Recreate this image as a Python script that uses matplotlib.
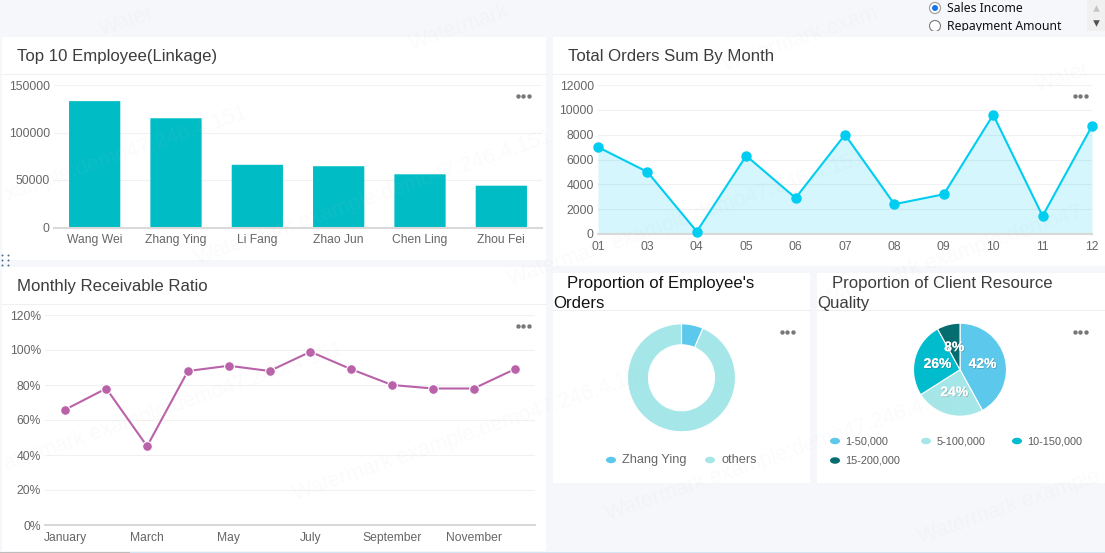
import matplotlib
matplotlib.use("Agg")
import matplotlib.pyplot as plt
import matplotlib.patheffects as pe
from matplotlib.patches import FancyBboxPatch, Rectangle, Ellipse, Circle

plt.rcParams["font.family"] = ["Liberation Sans", "DejaVu Sans"]

W, H = 1105, 553

# data
employees = ["Wang Wei", "Zhang Ying", "Li Fang", "Zhao Jun", "Chen Ling", "Zhou Fei"]
employee_sales = [133000, 115000, 66000, 64500, 56000, 44000]

order_months = ["01", "03", "04", "05", "06", "07", "08", "09", "10", "11", "12"]
order_sums = [7000, 5000, 200, 6300, 2900, 8000, 2400, 3200, 9600, 1450, 8700]

ratio_months = ["January", "February", "March", "April", "May", "June", "July",
                "August", "September", "October", "November", "December"]
ratio_values = [66, 78, 45, 88, 91, 88, 99, 89, 80, 78, 78, 89]

share_labels = ["Zhang Ying", "others"]
share_values = [6.5, 93.5]

quality_labels = ["1-50,000", "5-100,000", "10-150,000", "15-200,000"]
quality_values = [42, 24, 26, 8]

# colours
BG = "#f5f7fb"
GRID = "#f1f1f1"
AXIS = "#d9d9d9"
TICK = "#666666"
TEAL = "#00bcc5"
CYAN = "#00cdf0"
PURPLE = "#b962a9"
PIE_COLORS = ["#5bc8ec", "#a5e6e8", "#00bccd", "#056c6f"]


def px_axes(left, top, right, bottom, **kw):
    # axes placed by pixel box, y measured from the top of the image
    return fig.add_axes([left / W, 1 - bottom / H, (right - left) / W, (bottom - top) / H], **kw)


def style_axes(ax):
    for name in ["top", "right", "left"]:
        ax.spines[name].set_visible(False)
    ax.spines["bottom"].set_color(AXIS)
    ax.spines["bottom"].set_linewidth(1.5)
    ax.grid(axis="y", color=GRID, linewidth=0.8)
    ax.set_axisbelow(True)
    ax.tick_params(length=0, labelsize=8.7, labelcolor=TICK)
    ax.tick_params(axis="x", pad=5)
    ax.tick_params(axis="y", pad=3)


fig = plt.figure(figsize=(W / 100, H / 100), dpi=100, facecolor=BG)

# cards, dividers and titles live on one pixel layer
back = px_axes(0, 0, W, H, zorder=0)
back.set_xlim(0, W)
back.set_ylim(H, 0)
back.axis("off")

cards = [(2, 37, 546, 260, 74), (553, 37, 1105, 266, 74), (2, 267, 546, 551, 304),
         (553, 273, 810, 483, 310), (817, 273, 1105, 483, 310)]
for x0, y0, x1, y1, div in cards:
    back.add_patch(Rectangle((x0, y0), x1 - x0, y1 - y0, color="white", lw=0))
    back.plot([x0, x1], [div, div], color="#f0f0f0", lw=0.8)

# thin window edge along the bottom
back.add_patch(Rectangle((0, 551.5), 130, 1.5, color="#bdbdbd", lw=0))
back.add_patch(Rectangle((130, 551.5), W - 130, 1.5, color="#d3e4f3", lw=0))

title_kw = dict(fontsize=12.1, color="#3d3d3d", va="center")
back.text(17, 56, "Top 10 Employee(Linkage)", **title_kw)
back.text(568, 56, "Total Orders Sum By Month", **title_kw)
back.text(17, 286, "Monthly Receivable Ratio", **title_kw)
back.text(567, 283.5, "Proportion of Employee's", fontsize=12.1, color="#111111", va="center")
back.text(553, 303.5, "Orders", fontsize=12.1, color="#111111", va="center")
back.text(832, 283.5, "Proportion of Client Resource", **title_kw)
back.text(817, 303.5, "Quality", **title_kw)

# bar chart
ax1 = px_axes(54, 85, 542, 227.5, zorder=1)
ax1.patch.set_alpha(0)
bars = ax1.bar(employees, employee_sales, width=0.63, color=TEAL)
ax1.set_xlim(-0.5, 5.5)
ax1.set_ylim(0, 150000)
ax1.set_yticks([0, 50000, 100000, 150000])
style_axes(ax1)
# swap the square bars for rounded ones
band_px = 488 / 6
for bar in bars:
    bar.set_visible(False)
    ax1.add_patch(FancyBboxPatch(
        (bar.get_x(), 0), bar.get_width(), bar.get_height(),
        boxstyle=f"round,pad=0,rounding_size={4 / band_px}",
        mutation_aspect=(150000 / 142.5) / band_px,
        color=TEAL, lw=0, zorder=2))

# area line chart
ax2 = px_axes(598, 85, 1092, 234, zorder=1)
ax2.patch.set_alpha(0)
ax2.fill_between(order_months, order_sums, color=CYAN, alpha=0.17, lw=0)
ax2.plot(order_months, order_sums, color=CYAN, lw=1.5, marker="o", ms=6.5, clip_on=False, zorder=3)
ax2.set_xlim(0, len(order_months) - 1)
ax2.set_ylim(0, 12000)
ax2.set_yticks(range(0, 12001, 2000))
style_axes(ax2)

# ratio line chart
ax3 = px_axes(45, 315, 535, 525, zorder=1)
ax3.patch.set_alpha(0)
ax3.plot(ratio_months, ratio_values, color=PURPLE, lw=1.5, marker="o", ms=7,
         mec="white", mew=0.8, zorder=3)
ax3.set_xlim(-0.5, 11.5)
ax3.set_ylim(0, 120)
ax3.set_yticks(range(0, 121, 20))
ax3.set_yticklabels([f"{v}%" for v in range(0, 121, 20)])
ax3.set_xticks(range(0, 12, 2))
ax3.set_xticklabels(ratio_months[::2])
style_axes(ax3)

# donut
ax4 = px_axes(681.5 - 54, 377.8 - 54, 681.5 + 54, 377.8 + 54, zorder=1)
ax4.pie(share_values, colors=PIE_COLORS[:2], startangle=90, counterclock=False, radius=1,
        wedgeprops=dict(width=21 / 54, edgecolor="white", linewidth=0.8))
ax4.set_xlim(-1, 1)
ax4.set_ylim(-1, 1)

# pie
ax5 = px_axes(960 - 46.5, 369.7 - 46.5, 960 + 46.5, 369.7 + 46.5, zorder=1)
_, _, pct_texts = ax5.pie(quality_values, colors=PIE_COLORS, startangle=90, counterclock=False,
                          radius=1, autopct=lambda p: f"{p:.0f}%", pctdistance=0.5,
                          wedgeprops=dict(edgecolor="white", linewidth=0.8))
ax5.set_xlim(-1, 1)
ax5.set_ylim(-1, 1)
for t in pct_texts:
    t.set(color="white", fontsize=10, fontweight="bold")
    t.set_path_effects([pe.withSimplePatchShadow(offset=(0.6, -0.6), shadow_rgbFace="#555555", alpha=0.35),
                        pe.Normal()])

# top layer: legends, menus, radio buttons, watermark
top = px_axes(0, 0, W, H, zorder=5)
top.set_xlim(0, W)
top.set_ylim(H, 0)
top.axis("off")


def legend_key(x, y, color):
    top.add_patch(Ellipse((x, y), 10, 6.5, color=color, lw=0))


legend_key(611, 460, PIE_COLORS[0])
top.text(622.5, 460, share_labels[0], fontsize=9.2, color=TICK, va="center")
legend_key(710, 460, PIE_COLORS[1])
top.text(722, 460, share_labels[1], fontsize=9.2, color=TICK, va="center")

quality_pos = [(835, 441), (926, 441), (1017, 441), (835, 460.5)]
for (x, y), label, color in zip(quality_pos, quality_labels, PIE_COLORS):
    legend_key(x, y, color)
    top.text(x + 10.5, y, label, fontsize=7.8, color="#5a5a5a", va="center")

for mx, my in [(523, 96), (1080, 96), (523, 326), (787, 332), (1080, 332)]:
    top.scatter([mx - 5.5, mx, mx + 5.5], [my, my, my], s=10, color="#777777", lw=0)

# drag handle on the left edge
top.scatter([2, 8, 2, 8, 2, 8], [255, 255, 260, 260, 265, 265], s=2, color="#4a6a8a", lw=0)

# radio group, clipped by the strip above the cards
top.add_patch(Circle((935, 8), 5.5, fc="white", ec="#9a9a9a", lw=0.8))
top.add_patch(Circle((935, 8), 3, color="#1a73e8", lw=0))
top.add_patch(Circle((935, 26), 5.5, fc="white", ec="#7a7a7a", lw=0.8))
top.text(947, 8.5, "Sales Income", fontsize=8.8, family="Noto Sans", color="#111111", va="center")
top.text(947, 26.5, "Repayment Amount", fontsize=8.8, family="Noto Sans", color="#111111", va="center")
top.add_patch(Rectangle((925, 31), 150, 6, color=BG, lw=0, zorder=3))
top.add_patch(Rectangle((1087, 0), 18, 31, color="#f0f0f0", lw=0))
top.scatter([1096], [8], marker="^", s=22, color="#c4c4c4", lw=0)
top.scatter([1096], [23], marker="v", s=22, color="#505050", lw=0)

# repeating watermark, only the parts that show inside the picture
wm_full = "Watermark example:demo47.246.4.151"
wm_marks = [(6, 470, "atermark example:demo47.246.4.151"), (295, 500, wm_full), (608, 520, wm_full),
            (920, 543, "Watermark example"),
            (8, 200, "xample:demo47.246.4.151"), (197, 264, wm_full), (510, 285, wm_full),
            (823, 306, "Watermark example:demo47"),
            (102, 36, "Water"), (412, 50, "Watermark"), (725, 71, "Watermark exam"), (1038, 92, "Water")]
for wx, wy, wm in wm_marks:
    top.text(wx, wy, wm, fontsize=15.5, rotation=19, rotation_mode="anchor",
             ha="left", va="baseline", color="#c8c8c8", alpha=0.07)

fig.savefig("out.png", dpi=100, facecolor=BG)
